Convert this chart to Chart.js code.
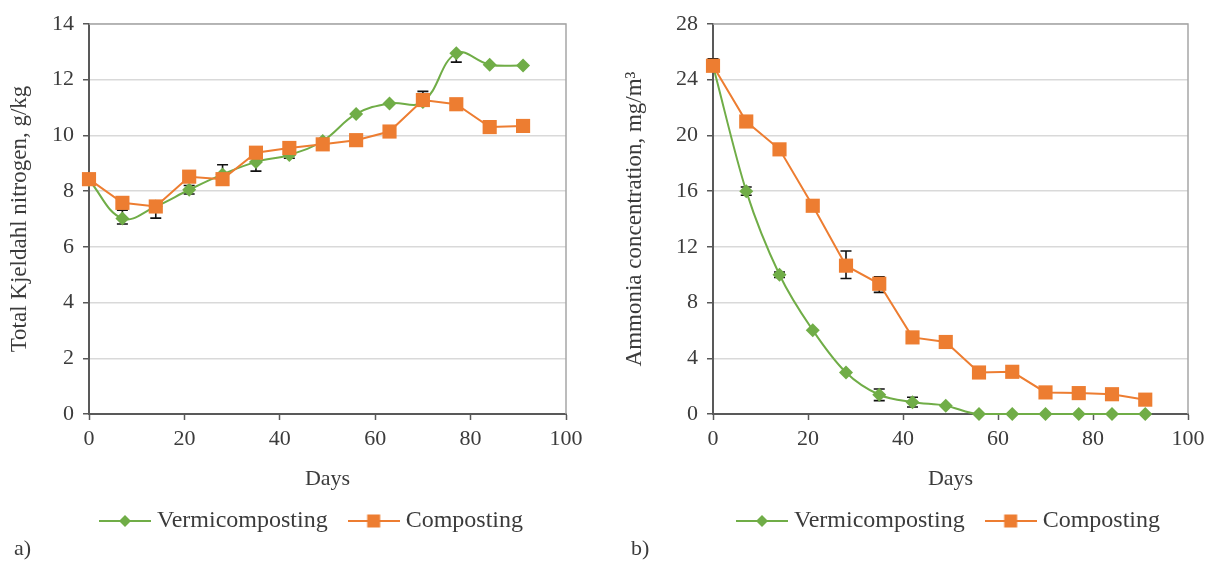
<!DOCTYPE html>
<html lang="en">
<head>
<meta charset="UTF-8">
<title>Vermicomposting vs composting</title>
<script src="https://cdn.jsdelivr.net/npm/chart.js"></script>
<style>
  body { margin: 0; background: #fff; width: 1218px; height: 561px; overflow: hidden; position: relative; font-family: 'Liberation Serif', serif; }
  .painel { position: absolute; top: 0; }
  #painelA { left: 0; }
  #painelB { left: 610px; }
  .letra { position: absolute; top: 535px; font-size: 22px; color: #3b3b3b; }
</style>
</head>
<body>

<!-- a) nitrogen panel -->
<div class="painel" id="painelA"><canvas id="graficoA" width="610" height="561"></canvas></div>
<!-- b) ammonia panel -->
<div class="painel" id="painelB"><canvas id="graficoB" width="608" height="561"></canvas></div>

<div class="letra" style="left:14px">a)</div>
<div class="letra" style="left:631px">b)</div>

<script>
// sampling days (both panels)
const dias = [0, 7, 14, 21, 28, 35, 42, 49, 56, 63, 70, 77, 84, 91];
const ticksDias = [0, 20, 40, 60, 80, 100];

// a) Total Kjeldahl nitrogen, g/kg
const nitroVermi = [8.4, 7.02, 7.45, 8.05, 8.6, 9.05, 9.3, 9.8, 10.77, 11.15, 11.2, 12.95, 12.54, 12.51];
const nitroCompo = [8.43, 7.58, 7.45, 8.52, 8.43, 9.38, 9.55, 9.68, 9.83, 10.14, 11.27, 11.12, 10.3, 10.34];
const nitroVermiErrMais = [0.22, 0.3, 0.2, 0.15, 0.35, 0, 0.1, 0, 0, 0, 0.38, 0, 0, 0];
const nitroVermiErrMenos = [0, 0.2, 0.42, 0.15, 0, 0.33, 0.12, 0, 0, 0, 0, 0.32, 0, 0];
const ticksNitro = [0, 2, 4, 6, 8, 10, 12, 14];

// b) Ammonia concentration, mg/m3
const amonVermi = [25, 16, 10, 6.02, 2.98, 1.38, 0.85, 0.6, 0, 0, 0, 0, 0, 0];
const amonCompo = [25, 21, 19, 14.95, 10.65, 9.35, 5.5, 5.17, 2.98, 3.03, 1.55, 1.5, 1.42, 1.03];
const amonVermiErrMais = [0, 0.3, 0.2, 0, 0, 0.42, 0.35, 0, 0, 0, 0, 0, 0, 0];
const amonVermiErrMenos = [0, 0.3, 0.2, 0, 0, 0.42, 0.35, 0, 0, 0, 0, 0, 0, 0];
const amonCompoErrMais = [0.5, 0, 0, 0, 1.05, 0.5, 0.3, 0, 0, 0, 0, 0, 0, 0];
const amonCompoErrMenos = [0, 0, 0, 0, 0.92, 0.62, 0.3, 0, 0, 0, 0, 0, 0, 0];
const ticksAmon = [0, 4, 8, 12, 16, 20, 24, 28];

const VERDE = '#70ad47';
const LARANJA = '#ed7d31';
const TEXTO = '#3b3b3b';
const FONTE = "'Liberation Serif', 'Times New Roman', serif";

function pares(xs, ys) {
  return xs.map((x, i) => ({ x: x, y: ys[i] }));
}

// little line + marker picture used as legend symbol
function iconeLegenda(cor, forma) {
  const c = document.createElement('canvas');
  c.width = 52; c.height = 20;
  const ctx = c.getContext('2d');
  ctx.strokeStyle = cor;
  ctx.fillStyle = cor;
  ctx.lineWidth = 2;
  ctx.beginPath(); ctx.moveTo(0, 10); ctx.lineTo(52, 10); ctx.stroke();
  ctx.beginPath();
  if (forma === 'losango') {
    ctx.moveTo(26, 4); ctx.lineTo(32, 10); ctx.lineTo(26, 16); ctx.lineTo(20, 10);
  } else {
    ctx.rect(19.5, 3.5, 13, 13);
  }
  ctx.closePath();
  ctx.fill();
  return c;
}

// error bars drawn under the markers, through the chart scales
const barrasErro = {
  id: 'barrasErro',
  beforeDatasetsDraw(chart) {
    const ctx = chart.ctx;
    const sx = chart.scales.x, sy = chart.scales.y;
    ctx.save();
    ctx.strokeStyle = '#111';
    ctx.lineWidth = 1.6;
    chart.data.datasets.forEach(ds => {
      if (!ds.errMais) return;
      ds.data.forEach((p, i) => {
        const mais = ds.errMais[i] || 0, menos = ds.errMenos[i] || 0;
        if (!mais && !menos) return;
        const px = sx.getPixelForValue(p.x);
        const y0 = sy.getPixelForValue(p.y);
        const pontas = [];
        if (mais) pontas.push(sy.getPixelForValue(p.y + mais));
        if (menos) pontas.push(sy.getPixelForValue(p.y - menos));
        pontas.forEach(py => {
          ctx.beginPath();
          ctx.moveTo(px, y0); ctx.lineTo(px, py);
          ctx.moveTo(px - 5.5, py); ctx.lineTo(px + 5.5, py);
          ctx.stroke();
        });
      });
    });
    ctx.restore();
  }
};

// grey frame at top and right of the plot area
const moldura = {
  id: 'moldura',
  beforeDatasetsDraw(chart) {
    const a = chart.chartArea, ctx = chart.ctx;
    ctx.save();
    ctx.strokeStyle = '#a6a6a6';
    ctx.lineWidth = 1.5;
    ctx.beginPath();
    ctx.moveTo(a.left, a.top); ctx.lineTo(a.right, a.top); ctx.lineTo(a.right, a.bottom);
    ctx.stroke();
    ctx.restore();
  }
};

// nudges the legend box to where it sits in the figure
const moverLegenda = {
  id: 'moverLegenda',
  afterLayout(chart, args, opts) {
    const lg = chart.legend;
    lg.left += opts.dx; lg.right += opts.dx;
    lg.top += opts.dy; lg.bottom += opts.dy;
  }
};

function montarGrafico(idCanvas, cfg) {
  const datasets = [
    {
      label: 'Vermicomposting',
      data: pares(dias, cfg.vermi),
      borderColor: VERDE,
      backgroundColor: VERDE,
      borderWidth: 2,
      pointStyle: 'rectRot',
      pointRadius: 7,
      pointHoverRadius: 7,
      pointBorderWidth: 0,
      tension: cfg.tensao,
      cubicInterpolationMode: cfg.modoCurva,
      clip: false,
      order: 1,
      errMais: cfg.vermiErrMais,
      errMenos: cfg.vermiErrMenos,
      icone: iconeLegenda(VERDE, 'losango')
    },
    {
      label: 'Composting',
      data: pares(dias, cfg.compo),
      borderColor: LARANJA,
      backgroundColor: LARANJA,
      borderWidth: 2,
      pointStyle: 'rect',
      pointRadius: 10,
      pointHoverRadius: 10,
      pointBorderWidth: 0,
      tension: 0,
      clip: false,
      order: 0,
      errMais: cfg.compoErrMais,
      errMenos: cfg.compoErrMenos,
      icone: iconeLegenda(LARANJA, 'quadrado')
    }
  ];

  return new Chart(document.getElementById(idCanvas), {
    type: 'line',
    data: { datasets: datasets },
    plugins: [moldura, barrasErro, moverLegenda],
    options: {
      responsive: false,
      animation: false,
      layout: { padding: cfg.padding },
      plugins: {
        tooltip: { enabled: false },
        moverLegenda: { dx: cfg.legendaDx, dy: -13 },
        legend: {
          position: 'bottom',
          labels: {
            usePointStyle: true,
            pointStyleWidth: 40,
            padding: 26,
            color: TEXTO,
            font: { family: FONTE, size: 24 },
            generateLabels: chart => chart.data.datasets.map((ds, i) => ({
              text: ds.label,
              pointStyle: ds.icone,
              fillStyle: ds.borderColor,
              strokeStyle: ds.borderColor,
              fontColor: TEXTO,
              lineWidth: 0,
              hidden: !chart.isDatasetVisible(i),
              datasetIndex: i
            }))
          }
        }
      },
      scales: {
        x: {
          type: 'linear',
          min: 0,
          max: 100,
          afterFit: s => { s.height = 82; },
          afterBuildTicks: s => { s.ticks = ticksDias.map(v => ({ value: v })); },
          ticks: { color: TEXTO, padding: 6, font: { family: FONTE, size: 22 } },
          grid: { drawOnChartArea: false, drawTicks: true, tickLength: 6, tickColor: '#595959', tickWidth: 1.5 },
          border: { color: '#595959', width: 2 },
          title: { display: true, text: 'Days', color: TEXTO, font: { family: FONTE, size: 22 }, padding: { top: 0, bottom: 4 } }
        },
        y: {
          min: 0,
          max: cfg.yMax,
          afterFit: s => { s.width = cfg.larguraY; },
          afterBuildTicks: s => { s.ticks = cfg.yTicks.map(v => ({ value: v })); },
          ticks: { color: TEXTO, padding: 9, font: { family: FONTE, size: 22 } },
          grid: { color: '#d9d9d9', lineWidth: 1.5, tickLength: 6, tickColor: '#595959', tickWidth: 1.5 },
          border: { color: '#595959', width: 2 },
          title: { display: true, text: cfg.tituloY, color: TEXTO, font: { family: FONTE, size: 23 }, padding: { top: cfg.recuoTitulo, bottom: 0 } }
        }
      }
    }
  });
}

montarGrafico('graficoA', {
  vermi: nitroVermi,
  compo: nitroCompo,
  vermiErrMais: nitroVermiErrMais,
  vermiErrMenos: nitroVermiErrMenos,
  compoErrMais: null,
  compoErrMenos: null,
  tensao: 0.4,
  modoCurva: 'default',
  yMax: 14,
  yTicks: ticksNitro,
  tituloY: 'Total Kjeldahl nitrogen, g/kg',
  larguraY: 89,
  recuoTitulo: 6,
  padding: { top: 24, right: 44, bottom: 5, left: 0 },
  legendaDx: 31
});

montarGrafico('graficoB', {
  vermi: amonVermi,
  compo: amonCompo,
  vermiErrMais: amonVermiErrMais,
  vermiErrMenos: amonVermiErrMenos,
  compoErrMais: amonCompoErrMais,
  compoErrMenos: amonCompoErrMenos,
  tensao: 0.4,
  modoCurva: 'monotone',
  yMax: 28,
  yTicks: ticksAmon,
  tituloY: 'Ammonia concentration, mg/m\u00b3',
  larguraY: 103,
  recuoTitulo: 11,
  padding: { top: 24, right: 30, bottom: 5, left: 0 },
  legendaDx: 52
});
</script>
</body>
</html>
